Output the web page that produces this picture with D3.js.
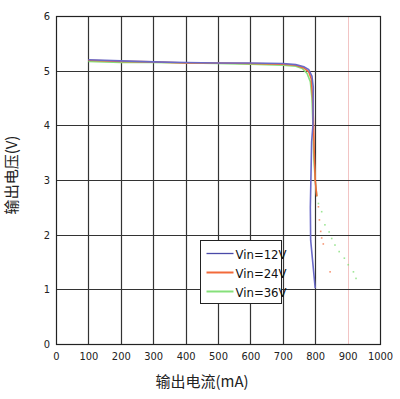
<!DOCTYPE html>
<html>
<head>
<meta charset="utf-8">
<script src="https://cdn.jsdelivr.net/npm/d3@7"></script>
<style>
  body { margin: 0; background: #fff; }
  svg { display: block; }
</style>
</head>
<body>
<div id="chart"></div>
<script>
// data
const xTicks = [0, 100, 200, 300, 400, 500, 600, 700, 800, 900, 1000];
const yTicks = [0, 1, 2, 3, 4, 5, 6];

const seriesNames = ['Vin=12V', 'Vin=24V', 'Vin=36V'];
const seriesColors = ['#6a6ac8', '#f26a3a', '#86e07a'];

const curve12 = [[100,5.2],[200,5.18],[300,5.16],[400,5.15],[500,5.14],[600,5.14],[700,5.13],[740,5.11],[765,5.07],[780,5.02],[790,4.9],[794,4.7],[793,4.0],[789,3.7],[785,2.5],[786,1.9],[800,1.02]];
const curve24 = [[100,5.19],[200,5.17],[300,5.16],[400,5.14],[500,5.14],[600,5.13],[700,5.12],[740,5.1],[765,5.05],[780,4.98],[788,4.85],[792,4.5],[795,4.0],[797,3.5],[800,3.0],[805,2.7]];
const curve36 = [[100,5.17],[200,5.15],[300,5.15],[400,5.14],[500,5.13],[600,5.12],[700,5.1],[740,5.08],[760,5.04],[775,4.95],[785,4.8],[790,4.5],[793,4.0],[796,3.4],[800,3.0],[805,2.7]];

const dots24 = [[810,2.51],[813,2.27],[817,2.06],[820,1.94],[825,1.83],[846,1.32]];
const dots36 = [[810,2.57],[820,2.42],[830,2.18],[843,2.05],[851,1.93],[861,1.81],[874,1.69],[890,1.57],[902,1.45],[918,1.32],[926,1.2]];

const W = 400, H = 399;
const margin = { top: 16, right: 20, bottom: 55, left: 56 };

const svg = d3.select('#chart').append('svg')
  .attr('width', W)
  .attr('height', H);

const x = d3.scaleLinear().domain([0, 1000]).range([margin.left, W - margin.right]);
const y = d3.scaleLinear().domain([0, 6]).range([H - margin.bottom, margin.top]);

const tickFont = '"DejaVu Sans Condensed", "Liberation Sans Narrow", sans-serif';
const px = (v) => Math.round(v) + 0.5;

// grid
const grid = svg.append('g');
grid.selectAll('.vline').data(xTicks.slice(1, -1)).enter().append('line')
  .attr('x1', (d) => px(x(d))).attr('x2', (d) => px(x(d)))
  .attr('y1', y(0)).attr('y2', y(6))
  .attr('stroke', (d) => (d === 900 ? '#f2c4c4' : '#333'))
  .attr('stroke-width', (d) => (d === 900 ? 1 : 1.2));
grid.selectAll('.hline').data(yTicks.slice(1, -1)).enter().append('line')
  .attr('x1', x(0)).attr('x2', x(1000))
  .attr('y1', (d) => px(y(d))).attr('y2', (d) => px(y(d)))
  .attr('stroke', '#333')
  .attr('stroke-width', 1.2);

// frame
svg.append('rect')
  .attr('x', px(x(0))).attr('y', px(y(6)))
  .attr('width', Math.round(x(1000) - x(0))).attr('height', Math.round(y(0) - y(6)))
  .attr('fill', 'none').attr('stroke', '#222').attr('stroke-width', 1.2);

// axes (labels only)
const xAxis = svg.append('g')
  .attr('transform', `translate(0,${y(0)})`)
  .call(d3.axisBottom(x).tickValues(xTicks).tickFormat(d3.format('d')).tickSize(0).tickPadding(8));
xAxis.select('.domain').remove();
xAxis.selectAll('text').style('font-family', tickFont).style('font-size', '11px').attr('fill', '#222');

const yAxis = svg.append('g')
  .attr('transform', `translate(${x(0)},0)`)
  .call(d3.axisLeft(y).tickValues(yTicks).tickFormat(d3.format('d')).tickSize(0).tickPadding(6));
yAxis.select('.domain').remove();
yAxis.selectAll('text').style('font-family', tickFont).style('font-size', '11px').attr('fill', '#222');

// lines
const line = d3.line().x((d) => x(d[0])).y((d) => y(d[1]));
const curves = [curve12, curve24, curve36];
svg.append('g').selectAll('path').data([2, 1, 0]).enter().append('path')
  .attr('d', (i) => line(curves[i]))
  .attr('fill', 'none')
  .attr('stroke', (i) => seriesColors[i])
  .attr('stroke-width', 1.6);

// dotted tails
svg.append('g').selectAll('rect').data(dots24).enter().append('rect')
  .attr('x', (d) => x(d[0]) - 0.8).attr('y', (d) => y(d[1]) - 0.8)
  .attr('width', 1.6).attr('height', 1.6)
  .attr('fill', seriesColors[1]).attr('opacity', 0.7);
svg.append('g').selectAll('rect').data(dots36).enter().append('rect')
  .attr('x', (d) => x(d[0]) - 0.8).attr('y', (d) => y(d[1]) - 0.8)
  .attr('width', 1.6).attr('height', 1.6)
  .attr('fill', seriesColors[2]).attr('opacity', 0.8);

// axis titles
svg.append('text')
  .attr('x', (x(0) + x(1000)) / 2 - 16).attr('y', H - 12)
  .attr('text-anchor', 'middle')
  .style('font-family', '"Noto Sans CJK SC", sans-serif')
  .style('font-size', '15px')
  .attr('fill', '#222')
  .text('输出电流(mA)');

svg.append('text')
  .attr('transform', `translate(17,${y(3) - 5}) rotate(-90)`)
  .attr('text-anchor', 'middle')
  .style('font-family', '"Noto Sans CJK SC", sans-serif')
  .style('font-size', '15px')
  .attr('fill', '#222')
  .text('输出电压(V)');

// legend
const legend = svg.append('g').attr('transform', 'translate(200.5,240.5)');
legend.append('rect')
  .attr('width', 81).attr('height', 63)
  .attr('fill', '#fff').attr('stroke', '#222').attr('stroke-width', 1);
seriesNames.forEach((name, i) => {
  const row = legend.append('g').attr('transform', `translate(0,${13 + i * 19})`);
  row.append('line')
    .attr('x1', 6).attr('x2', 33).attr('y1', 0).attr('y2', 0)
    .attr('stroke', i === 0 ? '#4a4aa8' : seriesColors[i]).attr('stroke-width', i === 0 ? 1.3 : 2);
  row.append('text')
    .attr('x', 35).attr('y', 5)
    .style('font-family', tickFont)
    .style('font-size', '13px')
    .attr('fill', '#111')
    .text(name);
});
</script>
</body>
</html>
